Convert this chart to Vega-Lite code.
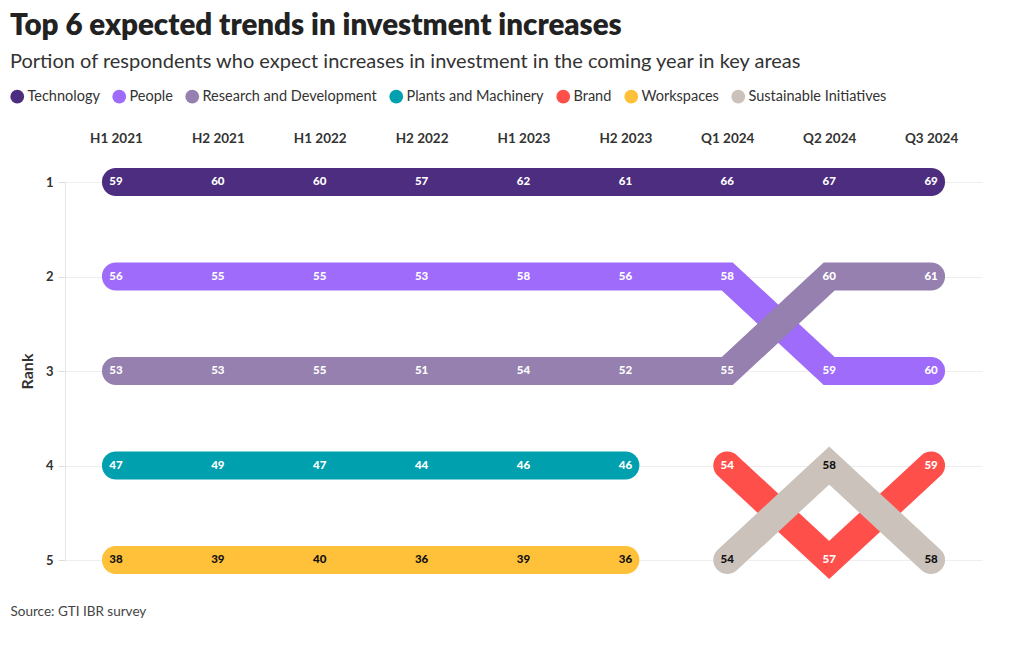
{
  "$schema": "https://vega.github.io/schema/vega-lite/v6.json",
  "width": 917,
  "height": 378,
  "autosize": {"type": "none"},
  "padding": {"left": 65, "top": 182, "right": 38, "bottom": 90},
  "background": "white",
  "title": {
    "text": "Top 6 expected trends in investment increases",
    "subtitle": "Portion of respondents who expect increases in investment in the coming year in key areas",
    "anchor": "start",
    "frame": "bounds",
    "font": "Lato",
    "fontSize": 29.5,
    "fontWeight": 800,
    "color": "#222222",
    "subtitleFont": "Lato",
    "subtitleFontSize": 20,
    "subtitleColor": "#333333",
    "subtitlePadding": 11,
    "offset": 16
  },
  "data": {
    "values": [
      {"period": "H1 2021", "cat": "Technology", "rank": 1, "value": 59},
      {"period": "H2 2021", "cat": "Technology", "rank": 1, "value": 60},
      {"period": "H1 2022", "cat": "Technology", "rank": 1, "value": 60},
      {"period": "H2 2022", "cat": "Technology", "rank": 1, "value": 57},
      {"period": "H1 2023", "cat": "Technology", "rank": 1, "value": 62},
      {"period": "H2 2023", "cat": "Technology", "rank": 1, "value": 61},
      {"period": "Q1 2024", "cat": "Technology", "rank": 1, "value": 66},
      {"period": "Q2 2024", "cat": "Technology", "rank": 1, "value": 67},
      {"period": "Q3 2024", "cat": "Technology", "rank": 1, "value": 69},
      {"period": "H1 2021", "cat": "People", "rank": 2, "value": 56},
      {"period": "H2 2021", "cat": "People", "rank": 2, "value": 55},
      {"period": "H1 2022", "cat": "People", "rank": 2, "value": 55},
      {"period": "H2 2022", "cat": "People", "rank": 2, "value": 53},
      {"period": "H1 2023", "cat": "People", "rank": 2, "value": 58},
      {"period": "H2 2023", "cat": "People", "rank": 2, "value": 56},
      {"period": "Q1 2024", "cat": "People", "rank": 2, "value": 58},
      {"period": "Q2 2024", "cat": "People", "rank": 3, "value": 59},
      {"period": "Q3 2024", "cat": "People", "rank": 3, "value": 60},
      {"period": "H1 2021", "cat": "Research and Development", "rank": 3, "value": 53},
      {"period": "H2 2021", "cat": "Research and Development", "rank": 3, "value": 53},
      {"period": "H1 2022", "cat": "Research and Development", "rank": 3, "value": 55},
      {"period": "H2 2022", "cat": "Research and Development", "rank": 3, "value": 51},
      {"period": "H1 2023", "cat": "Research and Development", "rank": 3, "value": 54},
      {"period": "H2 2023", "cat": "Research and Development", "rank": 3, "value": 52},
      {"period": "Q1 2024", "cat": "Research and Development", "rank": 3, "value": 55},
      {"period": "Q2 2024", "cat": "Research and Development", "rank": 2, "value": 60},
      {"period": "Q3 2024", "cat": "Research and Development", "rank": 2, "value": 61},
      {"period": "H1 2021", "cat": "Plants and Machinery", "rank": 4, "value": 47},
      {"period": "H2 2021", "cat": "Plants and Machinery", "rank": 4, "value": 49},
      {"period": "H1 2022", "cat": "Plants and Machinery", "rank": 4, "value": 47},
      {"period": "H2 2022", "cat": "Plants and Machinery", "rank": 4, "value": 44},
      {"period": "H1 2023", "cat": "Plants and Machinery", "rank": 4, "value": 46},
      {"period": "H2 2023", "cat": "Plants and Machinery", "rank": 4, "value": 46},
      {"period": "Q1 2024", "cat": "Brand", "rank": 4, "value": 54},
      {"period": "Q2 2024", "cat": "Brand", "rank": 5, "value": 57},
      {"period": "Q3 2024", "cat": "Brand", "rank": 4, "value": 59},
      {"period": "H1 2021", "cat": "Workspaces", "rank": 5, "value": 38},
      {"period": "H2 2021", "cat": "Workspaces", "rank": 5, "value": 39},
      {"period": "H1 2022", "cat": "Workspaces", "rank": 5, "value": 40},
      {"period": "H2 2022", "cat": "Workspaces", "rank": 5, "value": 36},
      {"period": "H1 2023", "cat": "Workspaces", "rank": 5, "value": 39},
      {"period": "H2 2023", "cat": "Workspaces", "rank": 5, "value": 36},
      {"period": "Q1 2024", "cat": "Sustainable Initiatives", "rank": 5, "value": 54},
      {"period": "Q2 2024", "cat": "Sustainable Initiatives", "rank": 4, "value": 58},
      {"period": "Q3 2024", "cat": "Sustainable Initiatives", "rank": 5, "value": 58}
    ]
  },
  "encoding": {
    "y": {
      "field": "rank",
      "type": "quantitative",
      "scale": {"domain": [1, 5], "reverse": true, "nice": false, "zero": false},
      "axis": {
        "title": "Rank",
        "values": [1, 2, 3, 4, 5],
        "format": "d",
        "labelFont": "Lato",
        "labelFontSize": 13,
        "labelFontWeight": "bold",
        "labelColor": "#333333",
        "labelPadding": 5,
        "tickSize": 7,
        "tickColor": "#dddddd",
        "domainColor": "#e6e6e6",
        "gridColor": "#eeeeee",
        "grid": true,
        "titleFont": "Lato",
        "titleFontSize": 16,
        "titleFontWeight": "bold",
        "titleColor": "#333333",
        "titlePadding": 10
      }
    }
  },
  "layer": [
    {
      "mark": {"type": "line", "strokeWidth": 28, "strokeCap": "round", "strokeJoin": "miter"},
      "encoding": {
        "x": {
          "field": "period",
          "type": "ordinal",
          "sort": ["H1 2021", "H2 2021", "H1 2022", "H2 2022", "H1 2023", "H2 2023", "Q1 2024", "Q2 2024", "Q3 2024"],
          "scale": {"type": "point", "padding": 0.5},
          "axis": {
            "orient": "top",
            "title": null,
            "domain": false,
            "ticks": false,
            "grid": false,
            "labelAngle": 0,
            "labelFont": "Lato",
            "labelFontSize": 13.5,
            "labelFontWeight": "bold",
            "labelColor": "#333333",
            "labelPadding": 37
          }
        },
        "color": {
          "field": "cat",
          "type": "nominal",
          "scale": {
            "domain": ["Technology", "People", "Research and Development", "Plants and Machinery", "Brand", "Workspaces", "Sustainable Initiatives"],
            "range": ["#4d2d7f", "#9e6bfa", "#9580b0", "#00a0af", "#ff4f4a", "#ffc03a", "#cac2bb"]
          },
          "legend": {
            "title": null,
            "orient": "none",
            "direction": "horizontal",
            "columns": 7,
            "legendX": -55,
            "legendY": -93,
            "symbolType": "circle",
            "symbolSize": 190,
            "symbolStrokeWidth": 0,
            "symbolOpacity": 1,
            "labelFont": "Lato",
            "labelFontSize": 14.5,
            "labelColor": "#333333",
            "labelOffset": 3,
            "labelLimit": 400,
            "columnPadding": 12,
            "encode": {
              "symbols": {
                "update": {
                  "fill": {"scale": "color", "field": "value"},
                  "stroke": {"value": "transparent"}
                }
              }
            }
          }
        }
      }
    },
    {
      "mark": {"type": "text", "font": "Lato", "fontSize": 11.5, "fontWeight": 900, "baseline": "middle", "align": "center"},
      "encoding": {
        "x": {
          "field": "period",
          "type": "ordinal",
          "sort": ["H1 2021", "H2 2021", "H1 2022", "H2 2022", "H1 2023", "H2 2023", "Q1 2024", "Q2 2024", "Q3 2024"],
          "scale": {"type": "point", "padding": 0.5},
          "axis": {
            "orient": "bottom",
            "labels": false,
            "ticks": false,
            "domain": false,
            "grid": false,
            "title": "Source: GTI IBR survey",
            "titleFont": "Lato",
            "titleFontSize": 13.5,
            "titleFontWeight": "normal",
            "titleColor": "#444444",
            "titleAnchor": "start",
            "titleAlign": "left",
            "titleBaseline": "middle",
            "titleX": -55,
            "titleY": 51
          }
        },
        "text": {"field": "value", "type": "quantitative"},
        "color": {
          "condition": {"test": "datum.cat === 'Workspaces' || datum.cat === 'Sustainable Initiatives'", "value": "#111111"},
          "value": "#ffffff"
        }
      }
    }
  ],
  "resolve": {"axis": {"x": "independent"}},
  "config": {"view": {"stroke": null}}
}
